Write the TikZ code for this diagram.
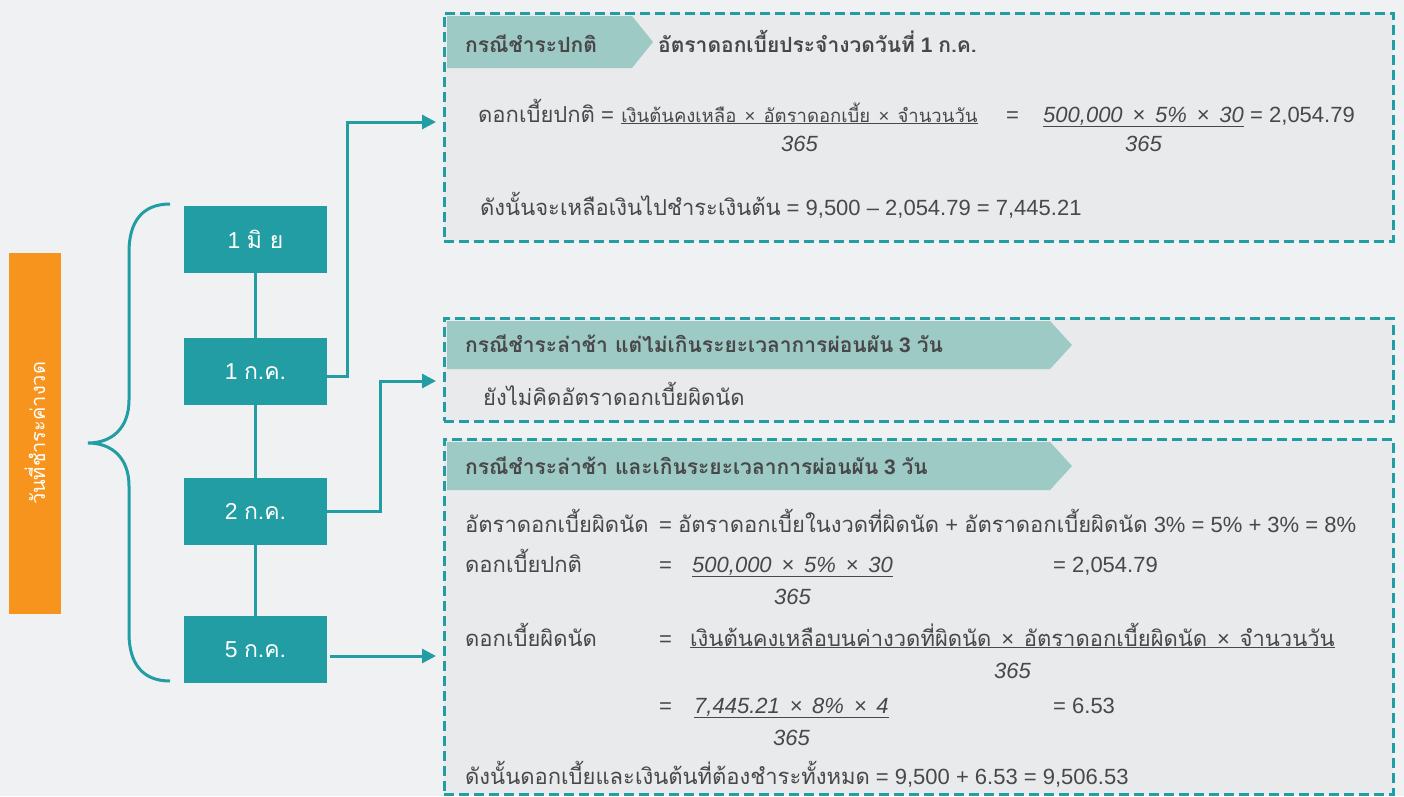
\documentclass[tikz,border=0pt]{standalone}
\usepackage{fontspec}
\setmainfont{Liberation Sans}
\newfontfamily\thaifont[Script=Thai]{Loma}
\newcommand{\tha}[1]{{\thaifont #1}}
\usetikzlibrary{arrows.meta}

\definecolor{tealmain}{HTML}{219DA3}
\definecolor{orangelbl}{HTML}{F7941E}
\definecolor{hdrfill}{HTML}{9ECAC5}
\definecolor{bggray}{HTML}{F0F1F2}
\definecolor{boxgray}{HTML}{E9EAEC}
\definecolor{textgray}{HTML}{48484A}

\tikzset{
  datebox/.style={fill=tealmain, text=white, minimum width=143pt, minimum height=67pt, inner sep=0pt, font=\fontsize{23}{27}\selectfont},
  casebox/.style={draw=tealmain, dash pattern=on 10pt off 5pt, line width=3pt, fill=boxgray, minimum width=949pt, inner sep=0pt},
  link/.style={draw=tealmain, line width=3pt},
  flow/.style={draw=tealmain, line width=3pt, -{Triangle[length=14pt,width=14pt]}},
  txt/.style={anchor=base west, inner sep=0pt, text=textgray, font=\fontsize{22}{26}\selectfont},
  hdrtxt/.style={txt, font=\fontsize{21}{25}\selectfont\bfseries},
  numtxt/.style={txt, font=\fontsize{22}{26}\selectfont\itshape},
  denom/.style={txt, anchor=base, font=\fontsize{22}{26}\selectfont\itshape}
}

\begin{document}
\begin{tikzpicture}[x=1pt, y=-1pt]
\useasboundingbox (0,0) rectangle (1404,796);
\fill[bggray] (0,0) rectangle (1404,796);

% left label and brace
\node[fill=orangelbl, text=white, rotate=90, minimum width=361pt, minimum height=52pt, inner sep=0pt, font=\fontsize{20}{24}\selectfont] (lbl) at (35,433.5) {\tha{วันที่ชำระค่างวด}};
\draw[link] (170,204) .. controls (142,204) and (129,222) .. (129,252) -- (129,400)
  .. controls (129,428) and (112,443) .. (88,443)
  .. controls (112,443) and (129,458) .. (129,486) -- (129,633)
  .. controls (129,663) and (142,681) .. (170,681);

% dates
\node[datebox] (d1) at (255.5,239.5) {1 \tha{มิ ย}};
\node[datebox] (d2) at (255.5,371.5) {1 \tha{ก.ค.}};
\node[datebox] (d3) at (255.5,511.5) {2 \tha{ก.ค.}};
\node[datebox] (d4) at (255.5,649.5) {5 \tha{ก.ค.}};
\draw[link] (d1) -- (d2);
\draw[link] (d2) -- (d3);
\draw[link] (d3) -- (d4);

% case boxes
\node[casebox, minimum height=228pt] (case1) at (918.5,127) {};
\node[casebox, minimum height=103pt] (case2) at (918.5,369.5) {};
\node[casebox, minimum height=355pt] (case3) at (918.5,616.5) {};
\fill[hdrfill] (447,16) -- (632,16) -- (653,42) -- (632,68) -- (447,68) -- cycle;
\fill[hdrfill] (447,321) -- (1050,321) -- (1072,345) -- (1050,369) -- (447,369) -- cycle;
\fill[hdrfill] (447,442) -- (1050,442) -- (1072,466) -- (1050,490) -- (447,490) -- cycle;

% arrows
\coordinate (e1) at (436,122);
\coordinate (e2) at (436,381);
\coordinate (e3) at (436,656);
\draw[flow] ([yshift=-4.5pt]d2.east) -- ++(20,0) |- (e1);
\draw[flow] (d3.east) -- ++(53,0) |- (e2);
\draw[flow] (d4.east |- e3) ++(3,0) -- (e3);

% case 1
\node[hdrtxt] (h1a) at (465,52) {\tha{กรณีชำระปกติ}};
\node[hdrtxt] (h1b) at (658,52) {\tha{อัตราดอกเบี้ยประจำงวดวันที่} 1 \tha{ก.ค.}};
\node[txt] (f1a) at (478,122) {\tha{ดอกเบี้ยปกติ} =};
\node[txt, xshift=7pt, font=\fontsize{18.5}{23}\selectfont] (f1b) at (f1a.base east) {\underline{\tha{เงินต้นคงเหลือ} \,×\, \tha{อัตราดอกเบี้ย} \,×\, \tha{จำนวนวัน}}};
\node[denom] (f1c) at ([yshift=-29pt]f1b.base) {365};
\node[txt] (f1d) at (1006,122) {=};
\node[numtxt] (f1e) at (1043,122) {\underline{500,000 \,×\, 5\% \,×\, 30}};
\node[denom] (f1f) at ([yshift=-29pt]f1e.base) {365};
\node[txt, xshift=6pt] (f1g) at (f1e.base east) {= 2,054.79};
\node[txt] (f1h) at (480,215) {\tha{ดังนั้นจะเหลือเงินไปชำระเงินต้น} = 9,500 – 2,054.79 = 7,445.21};

% case 2
\node[hdrtxt] (h2) at (465,352) {\tha{กรณีชำระล่าช้า แต่ไม่เกินระยะเวลาการผ่อนผัน} 3 \tha{วัน}};
\node[txt] (b2) at (483,405) {\tha{ยังไม่คิดอัตราดอกเบี้ยผิดนัด}};

% case 3
\node[hdrtxt] (h3) at (465,474) {\tha{กรณีชำระล่าช้า และเกินระยะเวลาการผ่อนผัน} 3 \tha{วัน}};
\node[txt] (r1a) at (465,532) {\tha{อัตราดอกเบี้ยผิดนัด}};
\node[txt] (r1b) at (659,532) {= \tha{อัตราดอกเบี้ยในงวดที่ผิดนัด} + \tha{อัตราดอกเบี้ยผิดนัด} 3\% = 5\% + 3\% = 8\%};
\node[txt] (r2a) at (465,572) {\tha{ดอกเบี้ยปกติ}};
\node[txt] (r2b) at (659,572) {=};
\node[numtxt] (r2c) at (692,572) {\underline{500,000 \,×\, 5\% \,×\, 30}};
\node[denom] (r2d) at ([yshift=-32pt]r2c.base) {365};
\node[txt] (r2e) at (1053,572) {= 2,054.79};
\node[txt] (r3a) at (465,646) {\tha{ดอกเบี้ยผิดนัด}};
\node[txt] (r3b) at (659,646) {=};
\node[txt] (r3c) at (690,646) {\underline{\tha{เงินต้นคงเหลือบนค่างวดที่ผิดนัด} \,×\, \tha{อัตราดอกเบี้ยผิดนัด} \,×\, \tha{จำนวนวัน}}};
\node[denom] (r3d) at ([yshift=-32pt]r3c.base) {365};
\node[txt] (r4b) at (659,713) {=};
\node[numtxt] (r4c) at (694,713) {\underline{7,445.21 \,×\, 8\% \,×\, 4}};
\node[denom] (r4d) at ([yshift=-32pt]r4c.base) {365};
\node[txt] (r4e) at (1053,713) {= 6.53};
\node[txt] (r5) at (465,784) {\tha{ดังนั้นดอกเบี้ยและเงินต้นที่ต้องชำระทั้งหมด} = 9,500 + 6.53 = 9,506.53};
\end{tikzpicture}
\end{document}
